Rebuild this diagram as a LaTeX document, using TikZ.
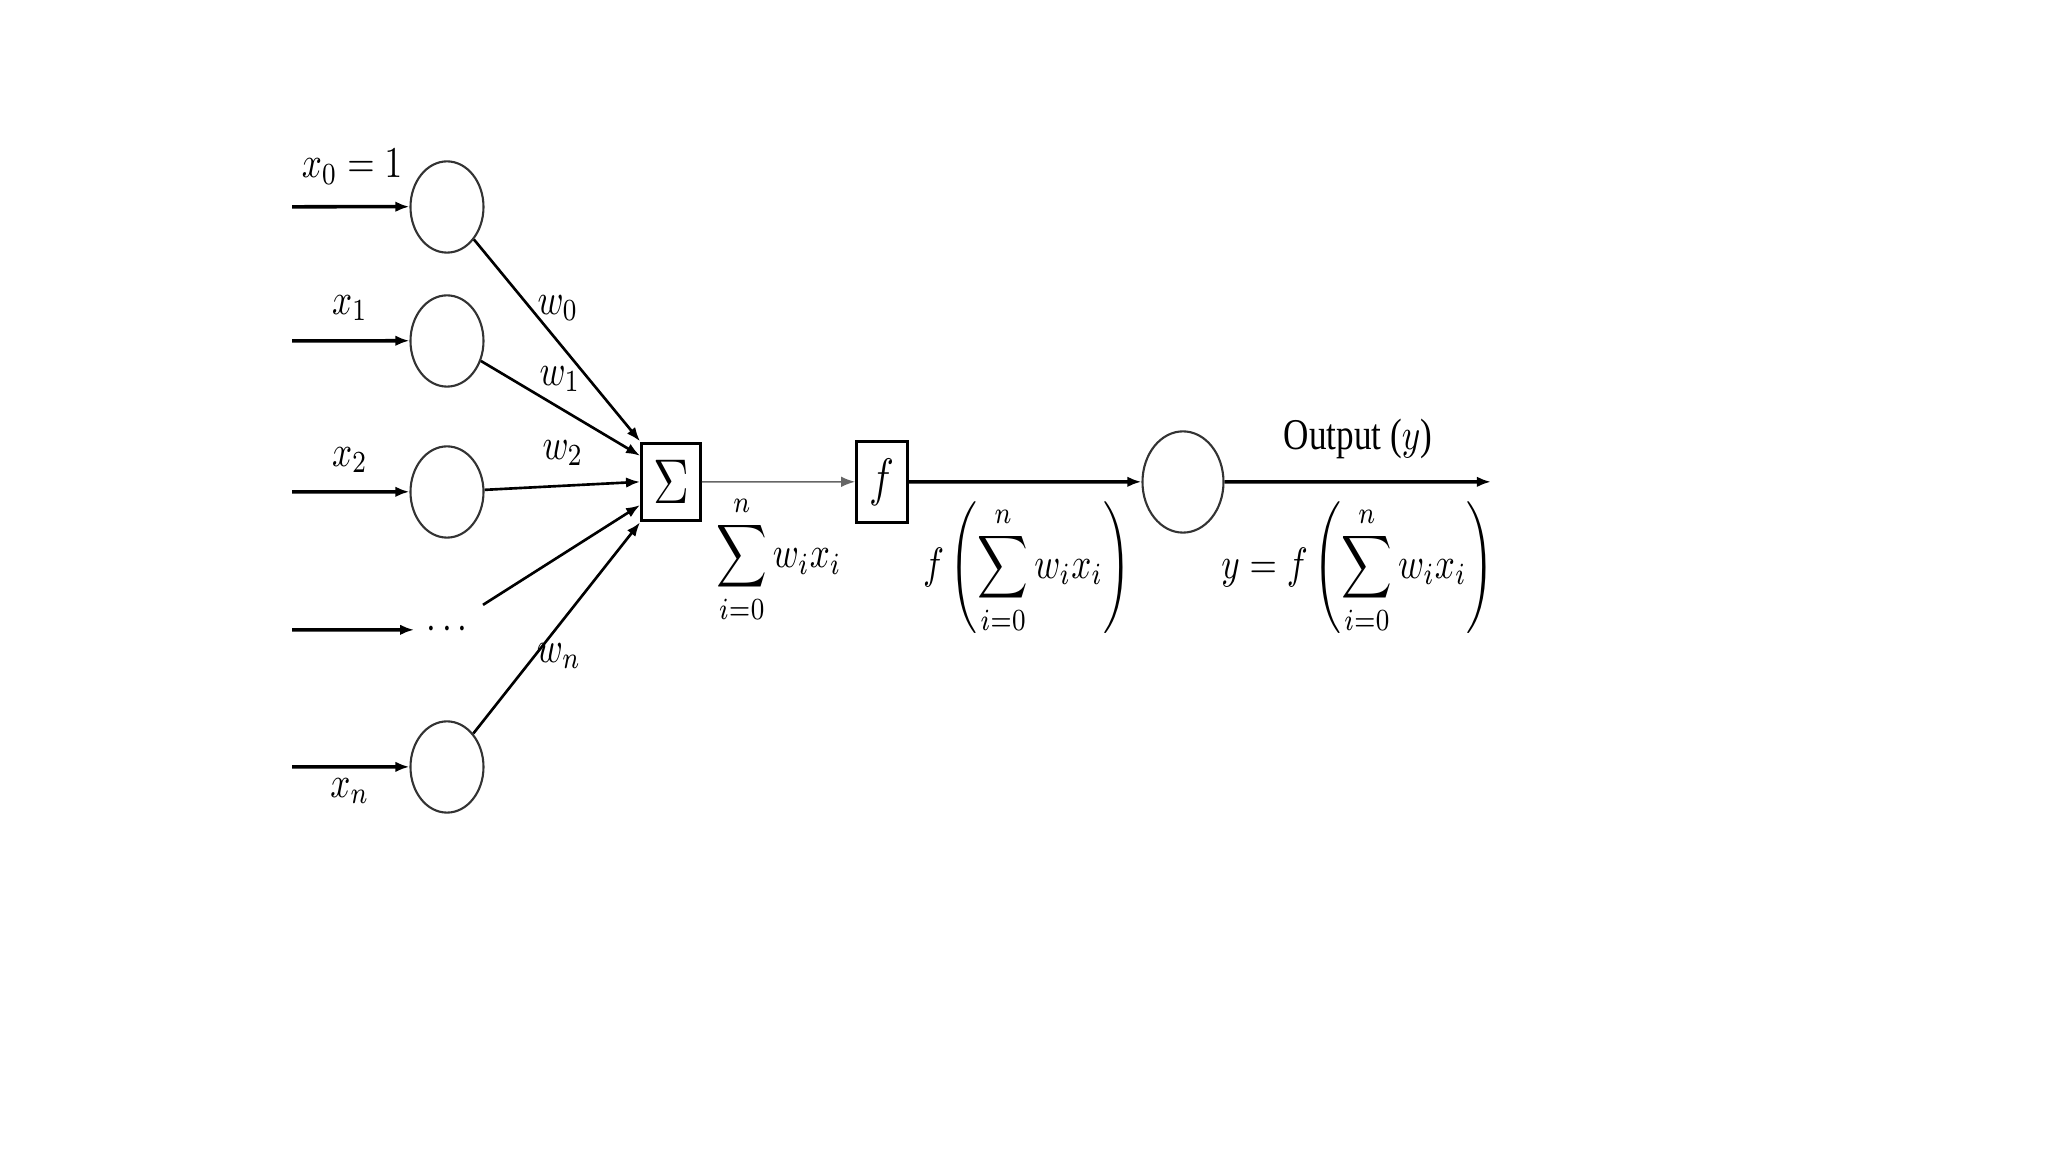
\documentclass[tikz,border=0pt]{standalone}
\usepackage{amsmath}
\usepackage{fontspec}
\newfontfamily\outfont{Liberation Serif}
\usetikzlibrary{arrows.meta}

\begin{document}
\begin{tikzpicture}[yscale=1.25, transform shape,
  neuron/.style={circle, draw=black!80, semithick, minimum size=0.73cm, inner sep=0pt},
  unit/.style={rectangle, draw, thick, inner sep=0pt},
  link/.style={line width=0.75pt, -{Latex[length=4pt,width=3pt]}},
  feed/.style={line width=1pt, -{Latex[length=4pt,width=3pt]}}]
\useasboundingbox (0,0) rectangle (20.48,9.216);

% input layer
\node[neuron] (x0) at (4.47,7.56) {};
\node[neuron] (x1) at (4.47,6.488) {};
\node[neuron] (x2) at (4.47,5.28) {};
\node (xd) at (4.50,4.176) {$\cdots$};
\node[neuron] (xn) at (4.47,3.08) {};

\foreach \v/\y in {0/7.56, 1/6.488, 2/5.28, d/4.176, n/3.08} {
  \coordinate (s\v) at (2.92,\y);
  \draw[feed] (s\v) -- (x\v);
}
\coordinate (dout) at (4.83,4.376);

% sum, activation, output
\node[unit, minimum width=0.59cm, minimum height=0.62cm] (sum) at (6.71,5.36) {\Large$\Sigma$};
\node[unit, minimum width=0.51cm, minimum height=0.65cm] (act) at (8.82,5.36) {\large$f$};
\node[neuron, minimum size=0.81cm] (out) at (11.83,5.36) {};
\coordinate (yend) at (14.91,5.36);

\draw[link] (x0) -- (sum.north west);
\draw[link] (x1) -- (sum.146);
\draw[link] (x2) -- (sum.west);
\draw[link] (dout) -- (sum.211);
\draw[link] (xn) -- (sum.south west);

\draw[thin, draw=black!60, -{Latex[length=4pt,width=3pt]}] (sum) -- (act);
\draw[feed] (act) -- (out);
\draw[feed] (out) -- (yend);

% labels
\node (lx0) at (3.52,7.88) {$x_0 = 1$};
\node (lx1) at (3.50,6.752) {$x_1$};
\node (lx2) at (3.50,5.536) {$x_2$};
\node (lxn) at (3.50,2.888) {$x_n$};
\node (lw0) at (5.58,6.752) {$w_0$};
\node (lw1) at (5.60,6.184) {$w_1$};
\node (lw2) at (5.63,5.592) {$w_2$};
\node (lwn) at (5.59,3.968) {$w_n$};

\node (lsum) at (7.79,4.74) {$\displaystyle\sum_{i=0}^{n} w_i x_i$};
\node (lact) at (10.27,4.672) {$\displaystyle f\left(\sum_{i=0}^{n} w_i x_i\right)$};
\node (lout) at (13.58,5.704) {\outfont Output ($y$)};
\node (ly) at (13.58,4.672) {$\displaystyle y = f\left(\sum_{i=0}^{n} w_i x_i\right)$};
\end{tikzpicture}
\end{document}
